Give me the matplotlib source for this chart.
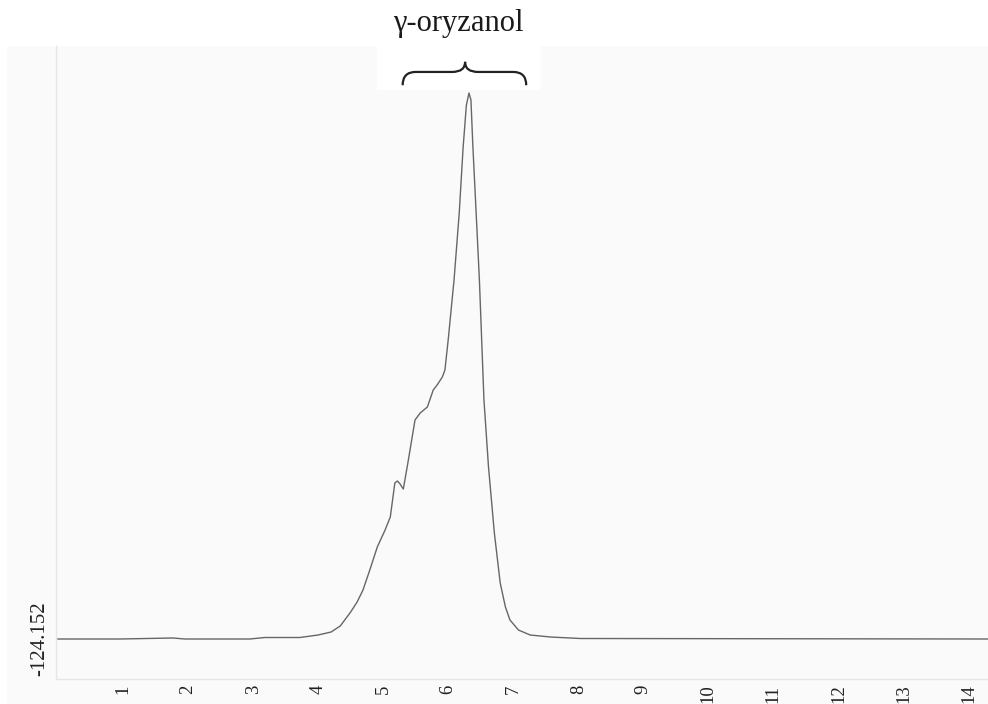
import numpy as np
import matplotlib
matplotlib.use('Agg')
import matplotlib.pyplot as plt
from matplotlib.path import Path
from matplotlib.patches import PathPatch, Rectangle
import matplotlib.transforms as mtransforms

# retention time (min) and detector signal (arbitrary units, baseline = 0)
time_min = [0.0, 0.95, 1.77, 1.95, 2.95, 3.18, 3.72, 4.0, 4.2, 4.34, 4.49, 4.6,
            4.69, 4.8, 4.91, 5.03, 5.11, 5.18, 5.22, 5.26, 5.31, 5.38, 5.49,
            5.57, 5.68, 5.77, 5.83, 5.91, 5.95, 6.0, 6.09, 6.17, 6.23, 6.28,
            6.32, 6.35, 6.38, 6.43, 6.48, 6.55, 6.62, 6.71, 6.8, 6.88, 6.95,
            7.08, 7.26, 7.57, 8.03, 14.3]
signal = [0, 0, 1, 0, 0, 1.5, 1.5, 4, 7, 13, 26, 37,
          49, 70, 92, 109, 122, 156, 158, 155, 150, 176, 219,
          226, 232, 249, 254, 262, 269, 299, 359, 426, 492, 534,
          546, 539, 492, 426, 359, 239, 172, 106, 56, 32, 19,
          9, 4, 2, 0.5, 0]

xtick_values = list(range(1, 15))
ytick_values = [0]
ytick_labels = ['-124.152']
peak_label = 'γ-oryzanol'
brace_span = (5.3, 7.2)   # min
brace_tip = 6.26

serif = ['Liberation Serif', 'DejaVu Serif']

fig = plt.figure(figsize=(9.88, 7.04), dpi=100)
fig.patch.set_facecolor('white')
# light grey canvas of the instrument software
fig.add_artist(Rectangle((7 / 988, 0), 1 - 7 / 988, (704 - 46) / 704,
                         transform=fig.transFigure, facecolor='#fafafa',
                         edgecolor='none', zorder=0))

ax = fig.add_axes([56 / 988, 25 / 704, 932 / 988, 633 / 704])
ax.set_facecolor('none')
ax.plot(time_min, signal, color='#666666', linewidth=1.0, zorder=3)

ax.set_xlim(-0.03, 14.3)
ax.set_ylim(-40, 593)
ax.set_xticks(xtick_values)
ax.set_xticklabels([str(v) for v in xtick_values], rotation=90,
                   fontsize=13.5, family=serif, color='#222222')
ax.set_yticks(ytick_values)
ax.set_yticklabels(ytick_labels, rotation=90, va='center',
                   fontsize=15, family=serif, color='#222222')
ax.tick_params(axis='x', length=0, pad=4)
ax.tick_params(axis='y', length=0, pad=5)
for s in ['top', 'right']:
    ax.spines[s].set_visible(False)
for s in ['left', 'bottom']:
    ax.spines[s].set_color('#e6e6e6')
    ax.spines[s].set_linewidth(1.0)

# white box behind the label brace
trans = mtransforms.blended_transform_factory(ax.transData, ax.transAxes)
ax.add_patch(Rectangle((4.91, 0.93), 2.52, 0.07, transform=trans,
                       facecolor='white', edgecolor='none', zorder=2,
                       clip_on=False))

# curly brace over the peak
x0, x1 = brace_span
xm = brace_tip
yh, ye, yt = 0.959, 0.938, 0.975
d = 0.2
verts = [(x0, ye), (x0, yh), (x0 + d, yh),
         (xm - d, yh),
         (xm, yh), (xm, yt),
         (xm, yh), (xm + d, yh),
         (x1 - d, yh),
         (x1, yh), (x1, ye)]
codes = [Path.MOVETO, Path.CURVE3, Path.CURVE3,
         Path.LINETO,
         Path.CURVE3, Path.CURVE3,
         Path.CURVE3, Path.CURVE3,
         Path.LINETO,
         Path.CURVE3, Path.CURVE3]
ax.add_patch(PathPatch(Path(verts, codes), transform=trans, facecolor='none',
                       edgecolor='#222222', linewidth=1.6, zorder=4,
                       clip_on=False))

ax.text(xm - 0.1, 1.0 + 8 / 633, peak_label, transform=trans, ha='center',
        va='bottom', fontsize=22, family=serif, color='#1a1a1a')

fig.savefig('out.png', dpi=100)
